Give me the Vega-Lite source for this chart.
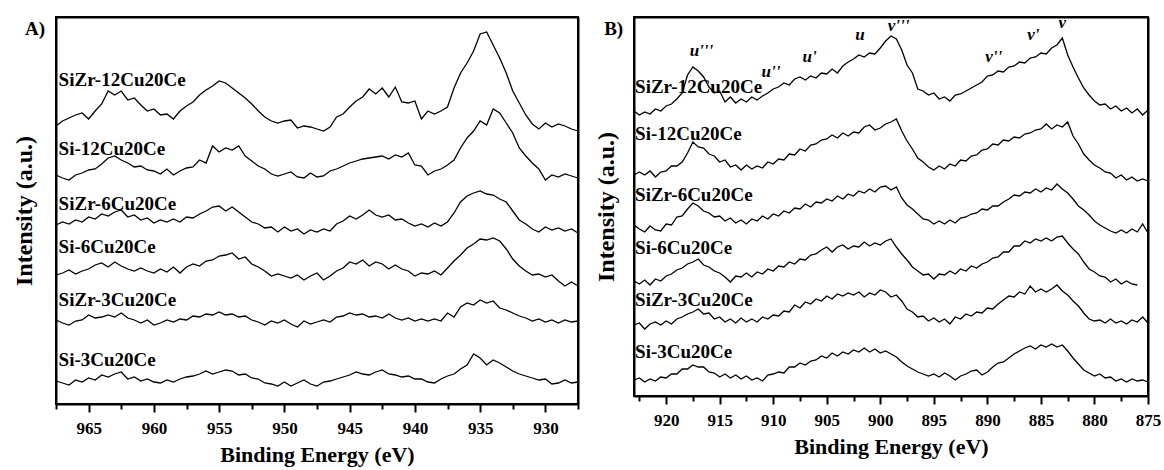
{
"$schema":"https://vega.github.io/schema/vega-lite/v6.json",
"padding":{"left":11,"top":13,"right":5,"bottom":5},
"background":"white",
"spacing":11,
"config":{
"view":{"stroke":"#000","strokeWidth":2},
"font":"Liberation Serif",
"axis":{"labelFont":"Liberation Serif","titleFont":"Liberation Serif","labelFontWeight":"bold","titleFontWeight":"bold","labelColor":"#000","titleColor":"#000","tickColor":"#000","grid":false,"domain":true,"domainColor":"#000","domainWidth":2}
},
"datasets":{
"cu":[
{"s":1,"x":967.5,"y":377},{"s":1,"x":967,"y":382},{"s":1,"x":966.5,"y":385},{"s":1,"x":966,"y":388},{"s":1,"x":965.5,"y":390},{"s":1,"x":965,"y":384},{"s":1,"x":964.5,"y":392},{"s":1,"x":964,"y":399},{"s":1,"x":963.5,"y":412},{"s":1,"x":963,"y":408},
{"s":1,"x":962.5,"y":412},{"s":1,"x":962,"y":403},{"s":1,"x":961.5,"y":405},{"s":1,"x":961,"y":398},{"s":1,"x":960.5,"y":392},{"s":1,"x":960,"y":394},{"s":1,"x":959.5,"y":388},{"s":1,"x":959,"y":389},{"s":1,"x":958.5,"y":384},{"s":1,"x":958,"y":392},
{"s":1,"x":957.5,"y":397},{"s":1,"x":957,"y":401},{"s":1,"x":956.5,"y":408},{"s":1,"x":956,"y":413},{"s":1,"x":955.5,"y":417},{"s":1,"x":955,"y":422},{"s":1,"x":954.5,"y":420},{"s":1,"x":954,"y":415},{"s":1,"x":953.5,"y":410},{"s":1,"x":953,"y":405},
{"s":1,"x":952.5,"y":399},{"s":1,"x":952,"y":392},{"s":1,"x":951.5,"y":386},{"s":1,"x":951,"y":382},{"s":1,"x":950.5,"y":380},{"s":1,"x":950,"y":382},{"s":1,"x":949.5,"y":383},{"s":1,"x":949,"y":375},{"s":1,"x":948.5,"y":377},{"s":1,"x":948,"y":376},
{"s":1,"x":947.5,"y":374},{"s":1,"x":947,"y":372},{"s":1,"x":946.5,"y":376},{"s":1,"x":946,"y":386},{"s":1,"x":945.5,"y":389},{"s":1,"x":945,"y":396},{"s":1,"x":944.5,"y":402},{"s":1,"x":944,"y":406},{"s":1,"x":943.5,"y":414},{"s":1,"x":943,"y":409},
{"s":1,"x":942.5,"y":415},{"s":1,"x":942,"y":406},{"s":1,"x":941.5,"y":416},{"s":1,"x":941,"y":401},{"s":1,"x":940.5,"y":400},{"s":1,"x":940,"y":402},{"s":1,"x":939.5,"y":384},{"s":1,"x":939,"y":392},{"s":1,"x":938.5,"y":389},{"s":1,"x":938,"y":392},
{"s":1,"x":937.5,"y":396},{"s":1,"x":937,"y":415},{"s":1,"x":936.5,"y":430},{"s":1,"x":936,"y":440},{"s":1,"x":935.5,"y":452},{"s":1,"x":935,"y":469},{"s":1,"x":934.5,"y":471},{"s":1,"x":934,"y":458},{"s":1,"x":933.5,"y":445},{"s":1,"x":933,"y":430},
{"s":1,"x":932.5,"y":412},{"s":1,"x":932,"y":400},{"s":1,"x":931.5,"y":388},{"s":1,"x":931,"y":379},{"s":1,"x":930.5,"y":374},{"s":1,"x":930,"y":380},{"s":1,"x":929.5,"y":376},{"s":1,"x":929,"y":379},{"s":1,"x":928.5,"y":377},{"s":1,"x":928,"y":374},{"s":1,"x":927.5,"y":372},
{"s":2,"x":967.5,"y":328},{"s":2,"x":967,"y":325},{"s":2,"x":966.5,"y":323},{"s":2,"x":966,"y":328},{"s":2,"x":965.5,"y":330},{"s":2,"x":965,"y":333},{"s":2,"x":964.5,"y":334},{"s":2,"x":964,"y":339},{"s":2,"x":963.5,"y":345},{"s":2,"x":963,"y":347},
{"s":2,"x":962.5,"y":343},{"s":2,"x":962,"y":340},{"s":2,"x":961.5,"y":336},{"s":2,"x":961,"y":337},{"s":2,"x":960.5,"y":333},{"s":2,"x":960,"y":332},{"s":2,"x":959.5,"y":329},{"s":2,"x":959,"y":334},{"s":2,"x":958.5,"y":328},{"s":2,"x":958,"y":332},
{"s":2,"x":957.5,"y":335},{"s":2,"x":957,"y":336},{"s":2,"x":956.5,"y":343},{"s":2,"x":956,"y":340},{"s":2,"x":955.5,"y":357},{"s":2,"x":955,"y":351},{"s":2,"x":954.5,"y":355},{"s":2,"x":954,"y":353},{"s":2,"x":953.5,"y":357},{"s":2,"x":953,"y":347},
{"s":2,"x":952.5,"y":342},{"s":2,"x":952,"y":337},{"s":2,"x":951.5,"y":334},{"s":2,"x":951,"y":329},{"s":2,"x":950.5,"y":327},{"s":2,"x":950,"y":329},{"s":2,"x":949.5,"y":331},{"s":2,"x":949,"y":326},{"s":2,"x":948.5,"y":325},{"s":2,"x":948,"y":330},
{"s":2,"x":947.5,"y":326},{"s":2,"x":947,"y":327},{"s":2,"x":946.5,"y":332},{"s":2,"x":946,"y":334},{"s":2,"x":945.5,"y":337},{"s":2,"x":945,"y":340},{"s":2,"x":944.5,"y":342},{"s":2,"x":944,"y":344},{"s":2,"x":943.5,"y":345},{"s":2,"x":943,"y":346},
{"s":2,"x":942.5,"y":347},{"s":2,"x":942,"y":344},{"s":2,"x":941.5,"y":348},{"s":2,"x":941,"y":346},{"s":2,"x":940.5,"y":350},{"s":2,"x":940,"y":338},{"s":2,"x":939.5,"y":337},{"s":2,"x":939,"y":328},{"s":2,"x":938.5,"y":332},{"s":2,"x":938,"y":334},
{"s":2,"x":937.5,"y":338},{"s":2,"x":937,"y":343},{"s":2,"x":936.5,"y":355},{"s":2,"x":936,"y":365},{"s":2,"x":935.5,"y":372},{"s":2,"x":935,"y":382},{"s":2,"x":934.5,"y":378},{"s":2,"x":934,"y":394},{"s":2,"x":933.5,"y":390},{"s":2,"x":933,"y":380},
{"s":2,"x":932.5,"y":370},{"s":2,"x":932,"y":355},{"s":2,"x":931.5,"y":347},{"s":2,"x":931,"y":340},{"s":2,"x":930.5,"y":334},{"s":2,"x":930,"y":323},{"s":2,"x":929.5,"y":328},{"s":2,"x":929,"y":326},{"s":2,"x":928.5,"y":329},{"s":2,"x":928,"y":327},{"s":2,"x":927.5,"y":325},
{"s":3,"x":967.5,"y":278},{"s":3,"x":967,"y":281},{"s":3,"x":966.5,"y":279},{"s":3,"x":966,"y":283},{"s":3,"x":965.5,"y":281},{"s":3,"x":965,"y":286},{"s":3,"x":964.5,"y":284},{"s":3,"x":964,"y":289},{"s":3,"x":963.5,"y":287},{"s":3,"x":963,"y":291},
{"s":3,"x":962.5,"y":293},{"s":3,"x":962,"y":286},{"s":3,"x":961.5,"y":288},{"s":3,"x":961,"y":283},{"s":3,"x":960.5,"y":285},{"s":3,"x":960,"y":280},{"s":3,"x":959.5,"y":283},{"s":3,"x":959,"y":281},{"s":3,"x":958.5,"y":284},{"s":3,"x":958,"y":281},
{"s":3,"x":957.5,"y":286},{"s":3,"x":957,"y":285},{"s":3,"x":956.5,"y":289},{"s":3,"x":956,"y":292},{"s":3,"x":955.5,"y":296},{"s":3,"x":955,"y":297},{"s":3,"x":954.5,"y":292},{"s":3,"x":954,"y":296},{"s":3,"x":953.5,"y":291},{"s":3,"x":953,"y":286},
{"s":3,"x":952.5,"y":281},{"s":3,"x":952,"y":279},{"s":3,"x":951.5,"y":275},{"s":3,"x":951,"y":276},{"s":3,"x":950.5,"y":271},{"s":3,"x":950,"y":276},{"s":3,"x":949.5,"y":272},{"s":3,"x":949,"y":274},{"s":3,"x":948.5,"y":269},{"s":3,"x":948,"y":273},
{"s":3,"x":947.5,"y":271},{"s":3,"x":947,"y":274},{"s":3,"x":946.5,"y":272},{"s":3,"x":946,"y":279},{"s":3,"x":945.5,"y":282},{"s":3,"x":945,"y":287},{"s":3,"x":944.5,"y":284},{"s":3,"x":944,"y":288},{"s":3,"x":943.5,"y":293},{"s":3,"x":943,"y":288},
{"s":3,"x":942.5,"y":286},{"s":3,"x":942,"y":288},{"s":3,"x":941.5,"y":283},{"s":3,"x":941,"y":284},{"s":3,"x":940.5,"y":280},{"s":3,"x":940,"y":277},{"s":3,"x":939.5,"y":279},{"s":3,"x":939,"y":276},{"s":3,"x":938.5,"y":280},{"s":3,"x":938,"y":277},
{"s":3,"x":937.5,"y":281},{"s":3,"x":937,"y":290},{"s":3,"x":936.5,"y":301},{"s":3,"x":936,"y":307},{"s":3,"x":935.5,"y":310},{"s":3,"x":935,"y":312},{"s":3,"x":934.5,"y":309},{"s":3,"x":934,"y":308},{"s":3,"x":933.5,"y":304},{"s":3,"x":933,"y":301},
{"s":3,"x":932.5,"y":292},{"s":3,"x":932,"y":283},{"s":3,"x":931.5,"y":279},{"s":3,"x":931,"y":274},{"s":3,"x":930.5,"y":271},{"s":3,"x":930,"y":276},{"s":3,"x":929.5,"y":273},{"s":3,"x":929,"y":275},{"s":3,"x":928.5,"y":272},{"s":3,"x":928,"y":274},{"s":3,"x":927.5,"y":270},
{"s":4,"x":967.5,"y":228},{"s":4,"x":967,"y":230},{"s":4,"x":966.5,"y":233},{"s":4,"x":966,"y":229},{"s":4,"x":965.5,"y":232},{"s":4,"x":965,"y":234},{"s":4,"x":964.5,"y":238},{"s":4,"x":964,"y":240},{"s":4,"x":963.5,"y":236},{"s":4,"x":963,"y":241},
{"s":4,"x":962.5,"y":237},{"s":4,"x":962,"y":234},{"s":4,"x":961.5,"y":232},{"s":4,"x":961,"y":235},{"s":4,"x":960.5,"y":232},{"s":4,"x":960,"y":230},{"s":4,"x":959.5,"y":234},{"s":4,"x":959,"y":231},{"s":4,"x":958.5,"y":236},{"s":4,"x":958,"y":230},
{"s":4,"x":957.5,"y":236},{"s":4,"x":957,"y":239},{"s":4,"x":956.5,"y":237},{"s":4,"x":956,"y":242},{"s":4,"x":955.5,"y":243},{"s":4,"x":955,"y":247},{"s":4,"x":954.5,"y":248},{"s":4,"x":954,"y":250},{"s":4,"x":953.5,"y":244},{"s":4,"x":953,"y":246},
{"s":4,"x":952.5,"y":239},{"s":4,"x":952,"y":236},{"s":4,"x":951.5,"y":232},{"s":4,"x":951,"y":227},{"s":4,"x":950.5,"y":229},{"s":4,"x":950,"y":227},{"s":4,"x":949.5,"y":225},{"s":4,"x":949,"y":228},{"s":4,"x":948.5,"y":223},{"s":4,"x":948,"y":227},
{"s":4,"x":947.5,"y":230},{"s":4,"x":947,"y":223},{"s":4,"x":946.5,"y":227},{"s":4,"x":946,"y":232},{"s":4,"x":945.5,"y":235},{"s":4,"x":945,"y":241},{"s":4,"x":944.5,"y":239},{"s":4,"x":944,"y":243},{"s":4,"x":943.5,"y":237},{"s":4,"x":943,"y":241},
{"s":4,"x":942.5,"y":239},{"s":4,"x":942,"y":234},{"s":4,"x":941.5,"y":238},{"s":4,"x":941,"y":234},{"s":4,"x":940.5,"y":232},{"s":4,"x":940,"y":227},{"s":4,"x":939.5,"y":230},{"s":4,"x":939,"y":229},{"s":4,"x":938.5,"y":232},{"s":4,"x":938,"y":228},
{"s":4,"x":937.5,"y":235},{"s":4,"x":937,"y":242},{"s":4,"x":936.5,"y":248},{"s":4,"x":936,"y":255},{"s":4,"x":935.5,"y":259},{"s":4,"x":935,"y":264},{"s":4,"x":934.5,"y":263},{"s":4,"x":934,"y":265},{"s":4,"x":933.5,"y":262},{"s":4,"x":933,"y":254},
{"s":4,"x":932.5,"y":244},{"s":4,"x":932,"y":237},{"s":4,"x":931.5,"y":232},{"s":4,"x":931,"y":228},{"s":4,"x":930.5,"y":229},{"s":4,"x":930,"y":226},{"s":4,"x":929.5,"y":228},{"s":4,"x":929,"y":222},{"s":4,"x":928.5,"y":217},{"s":4,"x":928,"y":221},{"s":4,"x":927.5,"y":217},
{"s":5,"x":967.5,"y":183},{"s":5,"x":967,"y":180},{"s":5,"x":966.5,"y":178},{"s":5,"x":966,"y":182},{"s":5,"x":965.5,"y":183},{"s":5,"x":965,"y":188},{"s":5,"x":964.5,"y":185},{"s":5,"x":964,"y":186},{"s":5,"x":963.5,"y":188},{"s":5,"x":963,"y":186},
{"s":5,"x":962.5,"y":190},{"s":5,"x":962,"y":185},{"s":5,"x":961.5,"y":183},{"s":5,"x":961,"y":180},{"s":5,"x":960.5,"y":183},{"s":5,"x":960,"y":178},{"s":5,"x":959.5,"y":180},{"s":5,"x":959,"y":183},{"s":5,"x":958.5,"y":181},{"s":5,"x":958,"y":184},
{"s":5,"x":957.5,"y":183},{"s":5,"x":957,"y":187},{"s":5,"x":956.5,"y":186},{"s":5,"x":956,"y":189},{"s":5,"x":955.5,"y":188},{"s":5,"x":955,"y":191},{"s":5,"x":954.5,"y":188},{"s":5,"x":954,"y":189},{"s":5,"x":953.5,"y":186},{"s":5,"x":953,"y":187},
{"s":5,"x":952.5,"y":183},{"s":5,"x":952,"y":181},{"s":5,"x":951.5,"y":178},{"s":5,"x":951,"y":182},{"s":5,"x":950.5,"y":180},{"s":5,"x":950,"y":183},{"s":5,"x":949.5,"y":179},{"s":5,"x":949,"y":176},{"s":5,"x":948.5,"y":182},{"s":5,"x":948,"y":179},
{"s":5,"x":947.5,"y":181},{"s":5,"x":947,"y":183},{"s":5,"x":946.5,"y":181},{"s":5,"x":946,"y":186},{"s":5,"x":945.5,"y":187},{"s":5,"x":945,"y":190},{"s":5,"x":944.5,"y":188},{"s":5,"x":944,"y":189},{"s":5,"x":943.5,"y":186},{"s":5,"x":943,"y":187},
{"s":5,"x":942.5,"y":185},{"s":5,"x":942,"y":189},{"s":5,"x":941.5,"y":185},{"s":5,"x":941,"y":183},{"s":5,"x":940.5,"y":185},{"s":5,"x":940,"y":182},{"s":5,"x":939.5,"y":184},{"s":5,"x":939,"y":182},{"s":5,"x":938.5,"y":184},{"s":5,"x":938,"y":182},
{"s":5,"x":937.5,"y":190},{"s":5,"x":937,"y":186},{"s":5,"x":936.5,"y":196},{"s":5,"x":936,"y":200},{"s":5,"x":935.5,"y":198},{"s":5,"x":935,"y":203},{"s":5,"x":934.5,"y":200},{"s":5,"x":934,"y":202},{"s":5,"x":933.5,"y":195},{"s":5,"x":933,"y":193},
{"s":5,"x":932.5,"y":190},{"s":5,"x":932,"y":187},{"s":5,"x":931.5,"y":185},{"s":5,"x":931,"y":182},{"s":5,"x":930.5,"y":184},{"s":5,"x":930,"y":181},{"s":5,"x":929.5,"y":183},{"s":5,"x":929,"y":180},{"s":5,"x":928.5,"y":183},{"s":5,"x":928,"y":181},{"s":5,"x":927.5,"y":182},
{"s":6,"x":967.5,"y":122},{"s":6,"x":967,"y":120},{"s":6,"x":966.5,"y":118},{"s":6,"x":966,"y":123},{"s":6,"x":965.5,"y":121},{"s":6,"x":965,"y":125},{"s":6,"x":964.5,"y":123},{"s":6,"x":964,"y":128},{"s":6,"x":963.5,"y":126},{"s":6,"x":963,"y":129},
{"s":6,"x":962.5,"y":131},{"s":6,"x":962,"y":124},{"s":6,"x":961.5,"y":126},{"s":6,"x":961,"y":122},{"s":6,"x":960.5,"y":124},{"s":6,"x":960,"y":121},{"s":6,"x":959.5,"y":120},{"s":6,"x":959,"y":123},{"s":6,"x":958.5,"y":121},{"s":6,"x":958,"y":124},
{"s":6,"x":957.5,"y":126},{"s":6,"x":957,"y":127},{"s":6,"x":956.5,"y":129},{"s":6,"x":956,"y":132},{"s":6,"x":955.5,"y":129},{"s":6,"x":955,"y":131},{"s":6,"x":954.5,"y":133},{"s":6,"x":954,"y":132},{"s":6,"x":953.5,"y":128},{"s":6,"x":953,"y":129},
{"s":6,"x":952.5,"y":125},{"s":6,"x":952,"y":124},{"s":6,"x":951.5,"y":120},{"s":6,"x":951,"y":119},{"s":6,"x":950.5,"y":117},{"s":6,"x":950,"y":121},{"s":6,"x":949.5,"y":117},{"s":6,"x":949,"y":120},{"s":6,"x":948.5,"y":123},{"s":6,"x":948,"y":119},
{"s":6,"x":947.5,"y":117},{"s":6,"x":947,"y":121},{"s":6,"x":946.5,"y":122},{"s":6,"x":946,"y":124},{"s":6,"x":945.5,"y":126},{"s":6,"x":945,"y":128},{"s":6,"x":944.5,"y":131},{"s":6,"x":944,"y":129},{"s":6,"x":943.5,"y":128},{"s":6,"x":943,"y":131},
{"s":6,"x":942.5,"y":133},{"s":6,"x":942,"y":129},{"s":6,"x":941.5,"y":128},{"s":6,"x":941,"y":126},{"s":6,"x":940.5,"y":127},{"s":6,"x":940,"y":124},{"s":6,"x":939.5,"y":124},{"s":6,"x":939,"y":121},{"s":6,"x":938.5,"y":120},{"s":6,"x":938,"y":124},
{"s":6,"x":937.5,"y":127},{"s":6,"x":937,"y":129},{"s":6,"x":936.5,"y":134},{"s":6,"x":936,"y":138},{"s":6,"x":935.5,"y":149},{"s":6,"x":935,"y":145},{"s":6,"x":934.5,"y":138},{"s":6,"x":934,"y":143},{"s":6,"x":933.5,"y":140},{"s":6,"x":933,"y":136},
{"s":6,"x":932.5,"y":132},{"s":6,"x":932,"y":129},{"s":6,"x":931.5,"y":127},{"s":6,"x":931,"y":125},{"s":6,"x":930.5,"y":123},{"s":6,"x":930,"y":124},{"s":6,"x":929.5,"y":119},{"s":6,"x":929,"y":120},{"s":6,"x":928.5,"y":123},{"s":6,"x":928,"y":120},{"s":6,"x":927.5,"y":121}
],
"ce":[
{"s":1,"x":923,"y":392},{"s":1,"x":922.5,"y":388},{"s":1,"x":922,"y":391},{"s":1,"x":921.5,"y":389},{"s":1,"x":921,"y":394},{"s":1,"x":920.5,"y":392},{"s":1,"x":920,"y":397},{"s":1,"x":919.5,"y":399},{"s":1,"x":919,"y":404},{"s":1,"x":918.5,"y":410},
{"s":1,"x":918,"y":428},{"s":1,"x":917.5,"y":436},{"s":1,"x":917,"y":432},{"s":1,"x":916.5,"y":426},{"s":1,"x":916,"y":416},{"s":1,"x":915.5,"y":410},{"s":1,"x":915,"y":412},{"s":1,"x":914.5,"y":401},{"s":1,"x":914,"y":406},{"s":1,"x":913.5,"y":400},
{"s":1,"x":913,"y":404},{"s":1,"x":912.5,"y":401},{"s":1,"x":912,"y":406},{"s":1,"x":911.5,"y":403},{"s":1,"x":911,"y":407},{"s":1,"x":910.5,"y":410},{"s":1,"x":910,"y":414},{"s":1,"x":909.5,"y":416},{"s":1,"x":909,"y":420},{"s":1,"x":908.5,"y":418},
{"s":1,"x":908,"y":424},{"s":1,"x":907.5,"y":426},{"s":1,"x":907,"y":423},{"s":1,"x":906.5,"y":427},{"s":1,"x":906,"y":425},{"s":1,"x":905.5,"y":430},{"s":1,"x":905,"y":429},{"s":1,"x":904.5,"y":434},{"s":1,"x":904,"y":430},{"s":1,"x":903.5,"y":437},
{"s":1,"x":903,"y":441},{"s":1,"x":902.5,"y":444},{"s":1,"x":902,"y":448},{"s":1,"x":901.5,"y":446},{"s":1,"x":901,"y":450},{"s":1,"x":900.5,"y":449},{"s":1,"x":900,"y":455},{"s":1,"x":899.5,"y":462},{"s":1,"x":899,"y":467},{"s":1,"x":898.5,"y":464},
{"s":1,"x":898,"y":453},{"s":1,"x":897.5,"y":438},{"s":1,"x":897,"y":430},{"s":1,"x":896.5,"y":414},{"s":1,"x":896,"y":412},{"s":1,"x":895.5,"y":408},{"s":1,"x":895,"y":410},{"s":1,"x":894.5,"y":404},{"s":1,"x":894,"y":406},{"s":1,"x":893.5,"y":402},
{"s":1,"x":893,"y":408},{"s":1,"x":892.5,"y":409},{"s":1,"x":892,"y":412},{"s":1,"x":891.5,"y":415},{"s":1,"x":891,"y":418},{"s":1,"x":890.5,"y":421},{"s":1,"x":890,"y":427},{"s":1,"x":889.5,"y":428},{"s":1,"x":889,"y":432},{"s":1,"x":888.5,"y":431},
{"s":1,"x":888,"y":436},{"s":1,"x":887.5,"y":437},{"s":1,"x":887,"y":441},{"s":1,"x":886.5,"y":440},{"s":1,"x":886,"y":445},{"s":1,"x":885.5,"y":446},{"s":1,"x":885,"y":450},{"s":1,"x":884.5,"y":449},{"s":1,"x":884,"y":455},{"s":1,"x":883.5,"y":458},
{"s":1,"x":883,"y":465},{"s":1,"x":882.5,"y":448},{"s":1,"x":882,"y":436},{"s":1,"x":881.5,"y":425},{"s":1,"x":881,"y":415},{"s":1,"x":880.5,"y":408},{"s":1,"x":880,"y":402},{"s":1,"x":879.5,"y":398},{"s":1,"x":879,"y":399},{"s":1,"x":878.5,"y":394},
{"s":1,"x":878,"y":397},{"s":1,"x":877.5,"y":392},{"s":1,"x":877,"y":395},{"s":1,"x":876.5,"y":390},{"s":1,"x":876,"y":394},{"s":1,"x":875.5,"y":388},{"s":1,"x":875,"y":393},
{"s":2,"x":923,"y":328},{"s":2,"x":922.5,"y":331},{"s":2,"x":922,"y":328},{"s":2,"x":921.5,"y":332},{"s":2,"x":921,"y":326},{"s":2,"x":920.5,"y":331},{"s":2,"x":920,"y":332},{"s":2,"x":919.5,"y":337},{"s":2,"x":919,"y":337},{"s":2,"x":918.5,"y":341},
{"s":2,"x":918,"y":350},{"s":2,"x":917.5,"y":361},{"s":2,"x":917,"y":356},{"s":2,"x":916.5,"y":355},{"s":2,"x":916,"y":349},{"s":2,"x":915.5,"y":347},{"s":2,"x":915,"y":341},{"s":2,"x":914.5,"y":343},{"s":2,"x":914,"y":336},{"s":2,"x":913.5,"y":338},
{"s":2,"x":913,"y":333},{"s":2,"x":912.5,"y":338},{"s":2,"x":912,"y":334},{"s":2,"x":911.5,"y":337},{"s":2,"x":911,"y":335},{"s":2,"x":910.5,"y":341},{"s":2,"x":910,"y":339},{"s":2,"x":909.5,"y":344},{"s":2,"x":909,"y":343},{"s":2,"x":908.5,"y":349},
{"s":2,"x":908,"y":348},{"s":2,"x":907.5,"y":354},{"s":2,"x":907,"y":352},{"s":2,"x":906.5,"y":358},{"s":2,"x":906,"y":359},{"s":2,"x":905.5,"y":363},{"s":2,"x":905,"y":364},{"s":2,"x":904.5,"y":368},{"s":2,"x":904,"y":365},{"s":2,"x":903.5,"y":370},
{"s":2,"x":903,"y":367},{"s":2,"x":902.5,"y":371},{"s":2,"x":902,"y":370},{"s":2,"x":901.5,"y":376},{"s":2,"x":901,"y":378},{"s":2,"x":900.5,"y":373},{"s":2,"x":900,"y":375},{"s":2,"x":899.5,"y":379},{"s":2,"x":899,"y":381},{"s":2,"x":898.5,"y":384},
{"s":2,"x":898,"y":372},{"s":2,"x":897.5,"y":362},{"s":2,"x":897,"y":354},{"s":2,"x":896.5,"y":345},{"s":2,"x":896,"y":341},{"s":2,"x":895.5,"y":336},{"s":2,"x":895,"y":333},{"s":2,"x":894.5,"y":337},{"s":2,"x":894,"y":334},{"s":2,"x":893.5,"y":339},
{"s":2,"x":893,"y":337},{"s":2,"x":892.5,"y":343},{"s":2,"x":892,"y":342},{"s":2,"x":891.5,"y":347},{"s":2,"x":891,"y":348},{"s":2,"x":890.5,"y":353},{"s":2,"x":890,"y":354},{"s":2,"x":889.5,"y":359},{"s":2,"x":889,"y":358},{"s":2,"x":888.5,"y":363},
{"s":2,"x":888,"y":362},{"s":2,"x":887.5,"y":366},{"s":2,"x":887,"y":365},{"s":2,"x":886.5,"y":369},{"s":2,"x":886,"y":370},{"s":2,"x":885.5,"y":373},{"s":2,"x":885,"y":374},{"s":2,"x":884.5,"y":379},{"s":2,"x":884,"y":374},{"s":2,"x":883.5,"y":378},
{"s":2,"x":883,"y":376},{"s":2,"x":882.5,"y":381},{"s":2,"x":882,"y":367},{"s":2,"x":881.5,"y":359},{"s":2,"x":881,"y":349},{"s":2,"x":880.5,"y":343},{"s":2,"x":880,"y":338},{"s":2,"x":879.5,"y":335},{"s":2,"x":879,"y":331},{"s":2,"x":878.5,"y":330},
{"s":2,"x":878,"y":325},{"s":2,"x":877.5,"y":328},{"s":2,"x":877,"y":323},{"s":2,"x":876.5,"y":326},{"s":2,"x":876,"y":322},{"s":2,"x":875.5,"y":324},{"s":2,"x":875,"y":322},
{"s":3,"x":923,"y":278},{"s":3,"x":922.5,"y":274},{"s":3,"x":922,"y":271},{"s":3,"x":921.5,"y":277},{"s":3,"x":921,"y":273},{"s":3,"x":920.5,"y":272},{"s":3,"x":920,"y":279},{"s":3,"x":919.5,"y":278},{"s":3,"x":919,"y":286},{"s":3,"x":918.5,"y":287},
{"s":3,"x":918,"y":294},{"s":3,"x":917.5,"y":300},{"s":3,"x":917,"y":297},{"s":3,"x":916.5,"y":292},{"s":3,"x":916,"y":290},{"s":3,"x":915.5,"y":286},{"s":3,"x":915,"y":287},{"s":3,"x":914.5,"y":282},{"s":3,"x":914,"y":285},{"s":3,"x":913.5,"y":280},
{"s":3,"x":913,"y":283},{"s":3,"x":912.5,"y":279},{"s":3,"x":912,"y":284},{"s":3,"x":911.5,"y":282},{"s":3,"x":911,"y":287},{"s":3,"x":910.5,"y":284},{"s":3,"x":910,"y":289},{"s":3,"x":909.5,"y":287},{"s":3,"x":909,"y":292},{"s":3,"x":908.5,"y":290},
{"s":3,"x":908,"y":295},{"s":3,"x":907.5,"y":294},{"s":3,"x":907,"y":299},{"s":3,"x":906.5,"y":296},{"s":3,"x":906,"y":301},{"s":3,"x":905.5,"y":300},{"s":3,"x":905,"y":304},{"s":3,"x":904.5,"y":302},{"s":3,"x":904,"y":307},{"s":3,"x":903.5,"y":304},
{"s":3,"x":903,"y":309},{"s":3,"x":902.5,"y":307},{"s":3,"x":902,"y":312},{"s":3,"x":901.5,"y":310},{"s":3,"x":901,"y":314},{"s":3,"x":900.5,"y":311},{"s":3,"x":900,"y":316},{"s":3,"x":899.5,"y":317},{"s":3,"x":899,"y":313},{"s":3,"x":898.5,"y":316},
{"s":3,"x":898,"y":305},{"s":3,"x":897.5,"y":298},{"s":3,"x":897,"y":294},{"s":3,"x":896.5,"y":289},{"s":3,"x":896,"y":284},{"s":3,"x":895.5,"y":283},{"s":3,"x":895,"y":279},{"s":3,"x":894.5,"y":282},{"s":3,"x":894,"y":279},{"s":3,"x":893.5,"y":283},
{"s":3,"x":893,"y":280},{"s":3,"x":892.5,"y":285},{"s":3,"x":892,"y":286},{"s":3,"x":891.5,"y":289},{"s":3,"x":891,"y":290},{"s":3,"x":890.5,"y":294},{"s":3,"x":890,"y":293},{"s":3,"x":889.5,"y":297},{"s":3,"x":889,"y":297},{"s":3,"x":888.5,"y":301},
{"s":3,"x":888,"y":304},{"s":3,"x":887.5,"y":308},{"s":3,"x":887,"y":307},{"s":3,"x":886.5,"y":311},{"s":3,"x":886,"y":310},{"s":3,"x":885.5,"y":314},{"s":3,"x":885,"y":311},{"s":3,"x":884.5,"y":315},{"s":3,"x":884,"y":313},{"s":3,"x":883.5,"y":319},
{"s":3,"x":883,"y":314},{"s":3,"x":882.5,"y":310},{"s":3,"x":882,"y":304},{"s":3,"x":881.5,"y":297},{"s":3,"x":881,"y":293},{"s":3,"x":880.5,"y":288},{"s":3,"x":880,"y":282},{"s":3,"x":879.5,"y":278},{"s":3,"x":879,"y":275},{"s":3,"x":878.5,"y":272},
{"s":3,"x":878,"y":270},{"s":3,"x":877.5,"y":273},{"s":3,"x":877,"y":270},{"s":3,"x":876.5,"y":274},{"s":3,"x":876,"y":271},{"s":3,"x":875.5,"y":279},{"s":3,"x":875,"y":270},
{"s":4,"x":923,"y":222},{"s":4,"x":922.5,"y":219},{"s":4,"x":922,"y":223},{"s":4,"x":921.5,"y":218},{"s":4,"x":921,"y":224},{"s":4,"x":920.5,"y":222},{"s":4,"x":920,"y":227},{"s":4,"x":919.5,"y":229},{"s":4,"x":919,"y":233},{"s":4,"x":918.5,"y":235},
{"s":4,"x":918,"y":239},{"s":4,"x":917.5,"y":241},{"s":4,"x":917,"y":244},{"s":4,"x":916.5,"y":238},{"s":4,"x":916,"y":236},{"s":4,"x":915.5,"y":232},{"s":4,"x":915,"y":230},{"s":4,"x":914.5,"y":226},{"s":4,"x":914,"y":221},{"s":4,"x":913.5,"y":227},
{"s":4,"x":913,"y":226},{"s":4,"x":912.5,"y":230},{"s":4,"x":912,"y":226},{"s":4,"x":911.5,"y":231},{"s":4,"x":911,"y":229},{"s":4,"x":910.5,"y":234},{"s":4,"x":910,"y":232},{"s":4,"x":909.5,"y":237},{"s":4,"x":909,"y":236},{"s":4,"x":908.5,"y":241},
{"s":4,"x":908,"y":239},{"s":4,"x":907.5,"y":244},{"s":4,"x":907,"y":243},{"s":4,"x":906.5,"y":248},{"s":4,"x":906,"y":249},{"s":4,"x":905.5,"y":253},{"s":4,"x":905,"y":256},{"s":4,"x":904.5,"y":251},{"s":4,"x":904,"y":256},{"s":4,"x":903.5,"y":258},
{"s":4,"x":903,"y":254},{"s":4,"x":902.5,"y":257},{"s":4,"x":902,"y":256},{"s":4,"x":901.5,"y":261},{"s":4,"x":901,"y":257},{"s":4,"x":900.5,"y":260},{"s":4,"x":900,"y":258},{"s":4,"x":899.5,"y":262},{"s":4,"x":899,"y":264},{"s":4,"x":898.5,"y":256},
{"s":4,"x":898,"y":249},{"s":4,"x":897.5,"y":243},{"s":4,"x":897,"y":236},{"s":4,"x":896.5,"y":232},{"s":4,"x":896,"y":228},{"s":4,"x":895.5,"y":229},{"s":4,"x":895,"y":224},{"s":4,"x":894.5,"y":229},{"s":4,"x":894,"y":228},{"s":4,"x":893.5,"y":232},
{"s":4,"x":893,"y":229},{"s":4,"x":892.5,"y":234},{"s":4,"x":892,"y":232},{"s":4,"x":891.5,"y":237},{"s":4,"x":891,"y":235},{"s":4,"x":890.5,"y":239},{"s":4,"x":890,"y":241},{"s":4,"x":889.5,"y":245},{"s":4,"x":889,"y":246},{"s":4,"x":888.5,"y":251},
{"s":4,"x":888,"y":251},{"s":4,"x":887.5,"y":257},{"s":4,"x":887,"y":257},{"s":4,"x":886.5,"y":262},{"s":4,"x":886,"y":260},{"s":4,"x":885.5,"y":264},{"s":4,"x":885,"y":262},{"s":4,"x":884.5,"y":265},{"s":4,"x":884,"y":262},{"s":4,"x":883.5,"y":266},
{"s":4,"x":883,"y":267},{"s":4,"x":882.5,"y":260},{"s":4,"x":882,"y":254},{"s":4,"x":881.5,"y":249},{"s":4,"x":881,"y":241},{"s":4,"x":880.5,"y":234},{"s":4,"x":880,"y":231},{"s":4,"x":879.5,"y":227},{"s":4,"x":879,"y":226},{"s":4,"x":878.5,"y":221},
{"s":4,"x":878,"y":224},{"s":4,"x":877.5,"y":219},{"s":4,"x":877,"y":222},{"s":4,"x":876.5,"y":219},{"s":4,"x":876,"y":218},
{"s":5,"x":923,"y":178},{"s":5,"x":922.5,"y":180},{"s":5,"x":922,"y":174},{"s":5,"x":921.5,"y":179},{"s":5,"x":921,"y":181},{"s":5,"x":920.5,"y":178},{"s":5,"x":920,"y":182},{"s":5,"x":919.5,"y":179},{"s":5,"x":919,"y":184},{"s":5,"x":918.5,"y":186},
{"s":5,"x":918,"y":189},{"s":5,"x":917.5,"y":191},{"s":5,"x":917,"y":194},{"s":5,"x":916.5,"y":189},{"s":5,"x":916,"y":190},{"s":5,"x":915.5,"y":184},{"s":5,"x":915,"y":186},{"s":5,"x":914.5,"y":181},{"s":5,"x":914,"y":184},{"s":5,"x":913.5,"y":180},
{"s":5,"x":913,"y":185},{"s":5,"x":912.5,"y":181},{"s":5,"x":912,"y":184},{"s":5,"x":911.5,"y":181},{"s":5,"x":911,"y":186},{"s":5,"x":910.5,"y":184},{"s":5,"x":910,"y":188},{"s":5,"x":909.5,"y":187},{"s":5,"x":909,"y":192},{"s":5,"x":908.5,"y":191},
{"s":5,"x":908,"y":198},{"s":5,"x":907.5,"y":195},{"s":5,"x":907,"y":201},{"s":5,"x":906.5,"y":199},{"s":5,"x":906,"y":204},{"s":5,"x":905.5,"y":202},{"s":5,"x":905,"y":207},{"s":5,"x":904.5,"y":204},{"s":5,"x":904,"y":209},{"s":5,"x":903.5,"y":207},
{"s":5,"x":903,"y":210},{"s":5,"x":902.5,"y":208},{"s":5,"x":902,"y":211},{"s":5,"x":901.5,"y":206},{"s":5,"x":901,"y":210},{"s":5,"x":900.5,"y":208},{"s":5,"x":900,"y":213},{"s":5,"x":899.5,"y":211},{"s":5,"x":899,"y":206},{"s":5,"x":898.5,"y":208},
{"s":5,"x":898,"y":202},{"s":5,"x":897.5,"y":194},{"s":5,"x":897,"y":191},{"s":5,"x":896.5,"y":186},{"s":5,"x":896,"y":187},{"s":5,"x":895.5,"y":182},{"s":5,"x":895,"y":185},{"s":5,"x":894.5,"y":181},{"s":5,"x":894,"y":184},{"s":5,"x":893.5,"y":179},
{"s":5,"x":893,"y":186},{"s":5,"x":892.5,"y":184},{"s":5,"x":892,"y":189},{"s":5,"x":891.5,"y":187},{"s":5,"x":891,"y":191},{"s":5,"x":890.5,"y":190},{"s":5,"x":890,"y":195},{"s":5,"x":889.5,"y":194},{"s":5,"x":889,"y":199},{"s":5,"x":888.5,"y":203},
{"s":5,"x":888,"y":207},{"s":5,"x":887.5,"y":206},{"s":5,"x":887,"y":211},{"s":5,"x":886.5,"y":209},{"s":5,"x":886,"y":217},{"s":5,"x":885.5,"y":211},{"s":5,"x":885,"y":214},{"s":5,"x":884.5,"y":211},{"s":5,"x":884,"y":214},{"s":5,"x":883.5,"y":218},
{"s":5,"x":883,"y":212},{"s":5,"x":882.5,"y":208},{"s":5,"x":882,"y":202},{"s":5,"x":881.5,"y":197},{"s":5,"x":881,"y":190},{"s":5,"x":880.5,"y":184},{"s":5,"x":880,"y":182},{"s":5,"x":879.5,"y":183},{"s":5,"x":879,"y":180},{"s":5,"x":878.5,"y":184},
{"s":5,"x":878,"y":180},{"s":5,"x":877.5,"y":182},{"s":5,"x":877,"y":179},{"s":5,"x":876.5,"y":183},{"s":5,"x":876,"y":181},{"s":5,"x":875.5,"y":186},{"s":5,"x":875,"y":180},
{"s":6,"x":923,"y":123},{"s":6,"x":922.5,"y":125},{"s":6,"x":922,"y":121},{"s":6,"x":921.5,"y":124},{"s":6,"x":921,"y":122},{"s":6,"x":920.5,"y":126},{"s":6,"x":920,"y":125},{"s":6,"x":919.5,"y":129},{"s":6,"x":919,"y":129},{"s":6,"x":918.5,"y":134},
{"s":6,"x":918,"y":134},{"s":6,"x":917.5,"y":138},{"s":6,"x":917,"y":136},{"s":6,"x":916.5,"y":136},{"s":6,"x":916,"y":131},{"s":6,"x":915.5,"y":130},{"s":6,"x":915,"y":126},{"s":6,"x":914.5,"y":129},{"s":6,"x":914,"y":125},{"s":6,"x":913.5,"y":128},
{"s":6,"x":913,"y":124},{"s":6,"x":912.5,"y":127},{"s":6,"x":912,"y":123},{"s":6,"x":911.5,"y":125},{"s":6,"x":911,"y":122},{"s":6,"x":910.5,"y":128},{"s":6,"x":910,"y":129},{"s":6,"x":909.5,"y":131},{"s":6,"x":909,"y":130},{"s":6,"x":908.5,"y":136},
{"s":6,"x":908,"y":136},{"s":6,"x":907.5,"y":140},{"s":6,"x":907,"y":138},{"s":6,"x":906.5,"y":142},{"s":6,"x":906,"y":143},{"s":6,"x":905.5,"y":147},{"s":6,"x":905,"y":145},{"s":6,"x":904.5,"y":150},{"s":6,"x":904,"y":147},{"s":6,"x":903.5,"y":151},
{"s":6,"x":903,"y":149},{"s":6,"x":902.5,"y":153},{"s":6,"x":902,"y":151},{"s":6,"x":901.5,"y":155},{"s":6,"x":901,"y":151},{"s":6,"x":900.5,"y":154},{"s":6,"x":900,"y":150},{"s":6,"x":899.5,"y":152},{"s":6,"x":899,"y":149},{"s":6,"x":898.5,"y":146},
{"s":6,"x":898,"y":141},{"s":6,"x":897.5,"y":137},{"s":6,"x":897,"y":134},{"s":6,"x":896.5,"y":131},{"s":6,"x":896,"y":129},{"s":6,"x":895.5,"y":127},{"s":6,"x":895,"y":129},{"s":6,"x":894.5,"y":126},{"s":6,"x":894,"y":130},{"s":6,"x":893.5,"y":127},
{"s":6,"x":893,"y":123},{"s":6,"x":892.5,"y":127},{"s":6,"x":892,"y":129},{"s":6,"x":891.5,"y":132},{"s":6,"x":891,"y":133},{"s":6,"x":890.5,"y":128},{"s":6,"x":890,"y":131},{"s":6,"x":889.5,"y":136},{"s":6,"x":889,"y":140},{"s":6,"x":888.5,"y":141},
{"s":6,"x":888,"y":145},{"s":6,"x":887.5,"y":149},{"s":6,"x":887,"y":152},{"s":6,"x":886.5,"y":155},{"s":6,"x":886,"y":157},{"s":6,"x":885.5,"y":154},{"s":6,"x":885,"y":158},{"s":6,"x":884.5,"y":156},{"s":6,"x":884,"y":159},{"s":6,"x":883.5,"y":156},
{"s":6,"x":883,"y":158},{"s":6,"x":882.5,"y":152},{"s":6,"x":882,"y":145},{"s":6,"x":881.5,"y":139},{"s":6,"x":881,"y":133},{"s":6,"x":880.5,"y":130},{"s":6,"x":880,"y":127},{"s":6,"x":879.5,"y":129},{"s":6,"x":879,"y":125},{"s":6,"x":878.5,"y":126},
{"s":6,"x":878,"y":122},{"s":6,"x":877.5,"y":124},{"s":6,"x":877,"y":121},{"s":6,"x":876.5,"y":124},{"s":6,"x":876,"y":122},{"s":6,"x":875.5,"y":123},{"s":6,"x":875,"y":121}
],
"culab":[
{"t":"SiZr-12Cu20Ce","x":967.3,"y":417},{"t":"Si-12Cu20Ce","x":967.3,"y":348},{"t":"SiZr-6Cu20Ce","x":967.3,"y":293},{"t":"Si-6Cu20Ce","x":967.3,"y":250},{"t":"SiZr-3Cu20Ce","x":967.3,"y":197},{"t":"Si-3Cu20Ce","x":967.3,"y":137}
],
"celab":[
{"t":"SiZr-12Cu20Ce","x":922.9,"y":410},{"t":"Si-12Cu20Ce","x":922.9,"y":363},{"t":"SiZr-6Cu20Ce","x":922.9,"y":302},{"t":"Si-6Cu20Ce","x":922.9,"y":249},{"t":"SiZr-3Cu20Ce","x":922.9,"y":197},{"t":"Si-3Cu20Ce","x":922.9,"y":145}
],
"cenote":[
{"t":"u'''","x":916.7,"y":452},{"t":"u''","x":910.2,"y":431},{"t":"u'","x":906.6,"y":446},{"t":"u","x":901.9,"y":468},{"t":"v'''","x":898.3,"y":477},{"t":"v''","x":889.4,"y":446},{"t":"v'","x":885.7,"y":468},{"t":"v","x":883.0,"y":480}
],
"cupanel":[{"t":"A)","x":969.1,"y":468}],
"cepanel":[{"t":"B)","x":924.9,"y":468}]
},
"hconcat":[
{
"width":522,"height":387,
"resolve":{"axis":{"x":"independent","y":"independent"}},
"layer":[
{"data":{"name":"cu"},"mark":{"type":"line","color":"#000","strokeWidth":1.3},
"encoding":{
"x":{"field":"x","type":"quantitative","scale":{"domain":[927.5,967.5],"reverse":true,"nice":false,"zero":false},
"axis":{"title":"Binding Energy (eV)","values":[967.5,965,962.5,960,957.5,955,952.5,950,947.5,945,942.5,940,937.5,935,932.5,930,927.5],"tickCount":60,"labelExpr":"datum.value % 5 === 0 ? format(datum.value, 'd') : ''","tickSize":{"condition":{"test":"datum.value % 5 === 0","value":8},"value":5},"tickWidth":2,"labelFontSize":17,"titleFontSize":22,"labelPadding":8,"titlePadding":8,"labelFlush":false,"labelOverlap":false}},
"y":{"field":"y","type":"quantitative","scale":{"domain":[99,486],"nice":false,"zero":false},"axis":{"title":"Intensity (a.u.)","labels":false,"ticks":false,"tickCount":60,"titleFontSize":24,"titlePadding":20}},
"detail":{"field":"s","type":"nominal"}}},
{"data":{"name":"culab"},"mark":{"type":"text","align":"left","baseline":"alphabetic","fontSize":19,"fontWeight":"bold","font":"Liberation Serif","color":"#000"},
"encoding":{"x":{"field":"x","type":"quantitative","axis":null},"y":{"field":"y","type":"quantitative","axis":null},"text":{"field":"t"}}},
{"data":{"name":"cupanel"},"mark":{"type":"text","align":"center","baseline":"alphabetic","fontSize":19,"fontWeight":"bold","font":"Liberation Serif","color":"#000"},
"encoding":{"x":{"field":"x","type":"quantitative","axis":{"orient":"top","labels":false,"ticks":false,"title":null,"domain":true,"domainWidth":2,"domainColor":"#000"}},"y":{"field":"y","type":"quantitative","axis":{"orient":"right","labels":false,"ticks":false,"title":null,"domain":true,"domainWidth":2,"domainColor":"#000"}},"text":{"field":"t"}}}
]
},
{
"width":514,"height":379,
"resolve":{"axis":{"x":"independent","y":"independent"}},
"layer":[
{"data":{"name":"ce"},"mark":{"type":"line","color":"#000","strokeWidth":1.3},
"encoding":{
"x":{"field":"x","type":"quantitative","scale":{"domain":[875,923],"reverse":true,"nice":false,"zero":false},
"axis":{"title":"Binding Energy (eV)","values":[922.5,920,917.5,915,912.5,910,907.5,905,902.5,900,897.5,895,892.5,890,887.5,885,882.5,880,877.5,875],"tickCount":60,"labelExpr":"datum.value % 5 === 0 ? format(datum.value, 'd') : ''","tickSize":{"condition":{"test":"datum.value % 5 === 0","value":8},"value":5},"tickWidth":2,"labelFontSize":17,"titleFontSize":22,"labelPadding":8,"titlePadding":8,"labelFlush":false,"labelOverlap":false}},
"y":{"field":"y","type":"quantitative","scale":{"domain":[107,486],"nice":false,"zero":false},"axis":{"title":"Intensity (a.u.)","labels":false,"ticks":false,"tickCount":60,"titleFontSize":24,"titlePadding":16}},
"detail":{"field":"s","type":"nominal"}}},
{"data":{"name":"celab"},"mark":{"type":"text","align":"left","baseline":"alphabetic","fontSize":19,"fontWeight":"bold","font":"Liberation Serif","color":"#000"},
"encoding":{"x":{"field":"x","type":"quantitative","axis":null},"y":{"field":"y","type":"quantitative","axis":null},"text":{"field":"t"}}},
{"data":{"name":"cenote"},"mark":{"type":"text","align":"center","baseline":"middle","fontSize":17,"fontWeight":"bold","fontStyle":"italic","font":"Liberation Serif","color":"#000"},
"encoding":{"x":{"field":"x","type":"quantitative","axis":null},"y":{"field":"y","type":"quantitative","axis":null},"text":{"field":"t"}}},
{"data":{"name":"cepanel"},"mark":{"type":"text","align":"center","baseline":"alphabetic","fontSize":19,"fontWeight":"bold","font":"Liberation Serif","color":"#000"},
"encoding":{"x":{"field":"x","type":"quantitative","axis":{"orient":"top","labels":false,"ticks":false,"title":null,"domain":true,"domainWidth":2,"domainColor":"#000"}},"y":{"field":"y","type":"quantitative","axis":{"orient":"right","labels":false,"ticks":false,"title":null,"domain":true,"domainWidth":2,"domainColor":"#000"}},"text":{"field":"t"}}}
]
}
]
}
